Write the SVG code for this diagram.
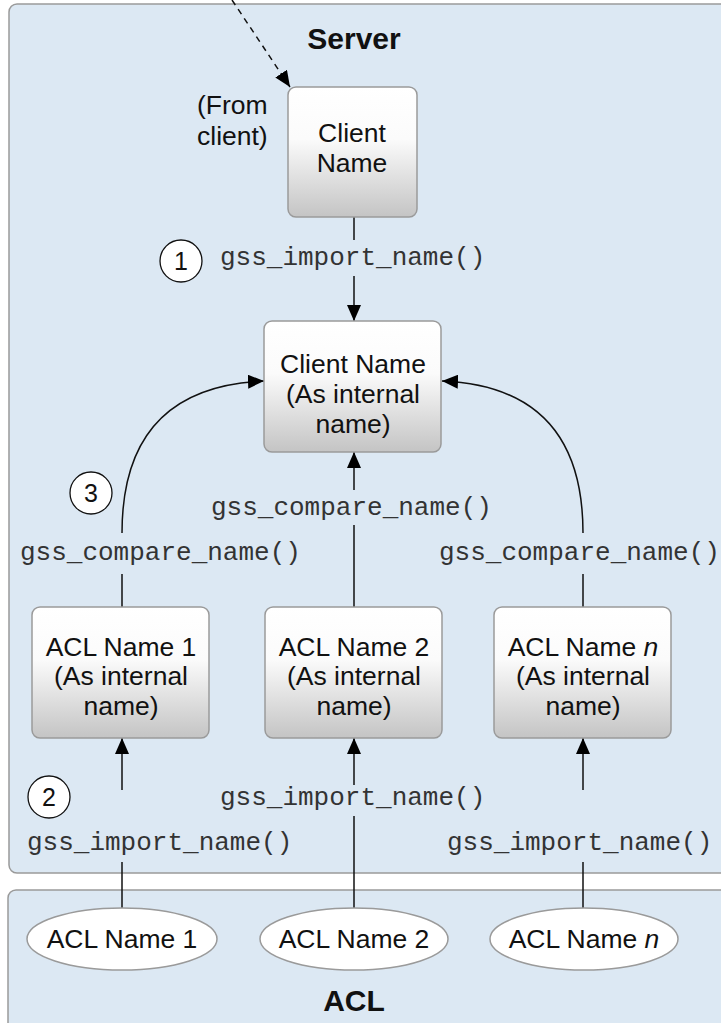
<svg xmlns="http://www.w3.org/2000/svg" width="721" height="1023" viewBox="0 0 721 1023">
<style>
.panel{fill:#dce8f3;stroke:#9a9a9a;stroke-width:1.5}
.box{fill:url(#g);stroke:#9a9a9a;stroke-width:1.5}
.ell{fill:#fff;stroke:#9a9a9a;stroke-width:1.5}
.lbl{font-family:"Liberation Sans",Arial,sans-serif;font-size:26.5px;fill:#111;text-anchor:middle}
.ttl{font-family:"Liberation Sans",Arial,sans-serif;font-size:30px;font-weight:bold;fill:#111;text-anchor:middle}
.mono{font-family:"Liberation Mono","Courier New",monospace;font-size:26px;fill:#333}
.num{font-family:"Liberation Sans",Arial,sans-serif;font-size:25px;fill:#111;text-anchor:middle}
.ln{fill:none;stroke:#111;stroke-width:1.5}
.arr{fill:none;stroke:#111;stroke-width:1.5;marker-end:url(#ah)}
.circ{fill:#fff;stroke:#111;stroke-width:1.3}
</style>
<defs>
<linearGradient id="g" x1="0" y1="0" x2="0" y2="1">
<stop offset="0" stop-color="#ffffff"/>
<stop offset="0.4" stop-color="#fbfbfb"/>
<stop offset="1" stop-color="#c4c4c4"/>
</linearGradient>
<marker id="ah" markerUnits="userSpaceOnUse" markerWidth="16" markerHeight="14" viewBox="0 0 16 14" refX="16" refY="7" orient="auto">
<path d="M0,0 L16,7 L0,14 z" fill="#000"/>
</marker>
</defs>

<g id="server-panel">
<rect class="panel" x="9" y="4" width="740" height="869" rx="8"/>
<text class="ttl" x="354" y="49">Server</text>
</g>
<g id="acl-panel">
<rect class="panel" x="8" y="890" width="740" height="160" rx="8"/>
<text class="ttl" x="354" y="1011">ACL</text>
</g>

<g id="connectors">
<line class="arr" x1="232" y1="0" x2="290" y2="87" stroke-dasharray="6,5"/>
<line class="ln" x1="354" y1="217" x2="354" y2="240"/>
<line class="arr" x1="354" y1="276" x2="354" y2="321"/>
<line class="arr" x1="354" y1="490" x2="354" y2="452"/>
<line class="ln" x1="354" y1="525" x2="354" y2="607"/>
<path class="arr" d="M122,533 C122,440 165,385 264,381"/>
<line class="ln" x1="122" y1="574" x2="122" y2="607"/>
<path class="arr" d="M583,533 C583,440 540,385 442,381"/>
<line class="ln" x1="583" y1="574" x2="583" y2="607"/>
<line class="arr" x1="122" y1="790" x2="122" y2="738"/>
<line class="ln" x1="122" y1="862" x2="122" y2="908"/>
<line class="arr" x1="354" y1="785" x2="354" y2="738"/>
<line class="ln" x1="354" y1="816" x2="354" y2="908"/>
<line class="arr" x1="583" y1="790" x2="583" y2="738"/>
<line class="ln" x1="583" y1="862" x2="583" y2="908"/>
</g>

<g id="labels">
<text class="lbl" x="197" y="114" style="text-anchor:start">(From</text>
<text class="lbl" x="197" y="145" style="text-anchor:start">client)</text>
<text class="mono" x="220" y="265">gss_import_name()</text>
<text class="mono" x="211" y="515">gss_compare_name()</text>
<text class="mono" x="20" y="560">gss_compare_name()</text>
<text class="mono" x="439" y="560">gss_compare_name()</text>
<text class="mono" x="220" y="805">gss_import_name()</text>
<text class="mono" x="27" y="850">gss_import_name()</text>
<text class="mono" x="447" y="850">gss_import_name()</text>
</g>

<g id="step1">
<circle class="circ" cx="181" cy="261" r="21"/>
<text class="num" x="181" y="270">1</text>
</g>
<g id="step2">
<circle class="circ" cx="49" cy="797" r="21"/>
<text class="num" x="49" y="806">2</text>
</g>
<g id="step3">
<circle class="circ" cx="91" cy="493" r="21"/>
<text class="num" x="91" y="502">3</text>
</g>

<g id="client-name">
<rect class="box" x="288" y="87" width="129" height="130" rx="8"/>
<text class="lbl" x="352" y="142">Client</text>
<text class="lbl" x="352" y="172">Name</text>
</g>
<g id="client-internal">
<rect class="box" x="264" y="321" width="177" height="131" rx="8"/>
<text class="lbl" x="353" y="373">Client Name</text>
<text class="lbl" x="353" y="403">(As internal</text>
<text class="lbl" x="353" y="433">name)</text>
</g>
<g id="acl-internal-1">
<rect class="box" x="32" y="607" width="177" height="131" rx="8"/>
<text class="lbl" x="121" y="656">ACL Name 1</text>
<text class="lbl" x="121" y="685">(As internal</text>
<text class="lbl" x="121" y="715">name)</text>
</g>
<g id="acl-internal-2">
<rect class="box" x="265" y="607" width="177" height="131" rx="8"/>
<text class="lbl" x="354" y="656">ACL Name 2</text>
<text class="lbl" x="354" y="685">(As internal</text>
<text class="lbl" x="354" y="715">name)</text>
</g>
<g id="acl-internal-n">
<rect class="box" x="494" y="607" width="177" height="131" rx="8"/>
<text class="lbl" x="583" y="656">ACL Name <tspan font-style="italic">n</tspan></text>
<text class="lbl" x="583" y="685">(As internal</text>
<text class="lbl" x="583" y="715">name)</text>
</g>

<g id="acl-1">
<ellipse class="ell" cx="122" cy="939" rx="95" ry="31"/>
<text class="lbl" x="122" y="948">ACL Name 1</text>
</g>
<g id="acl-2">
<ellipse class="ell" cx="354" cy="939" rx="94" ry="31"/>
<text class="lbl" x="354" y="948">ACL Name 2</text>
</g>
<g id="acl-n">
<ellipse class="ell" cx="584" cy="939" rx="94" ry="31"/>
<text class="lbl" x="584" y="948">ACL Name <tspan font-style="italic">n</tspan></text>
</g>
</svg>
